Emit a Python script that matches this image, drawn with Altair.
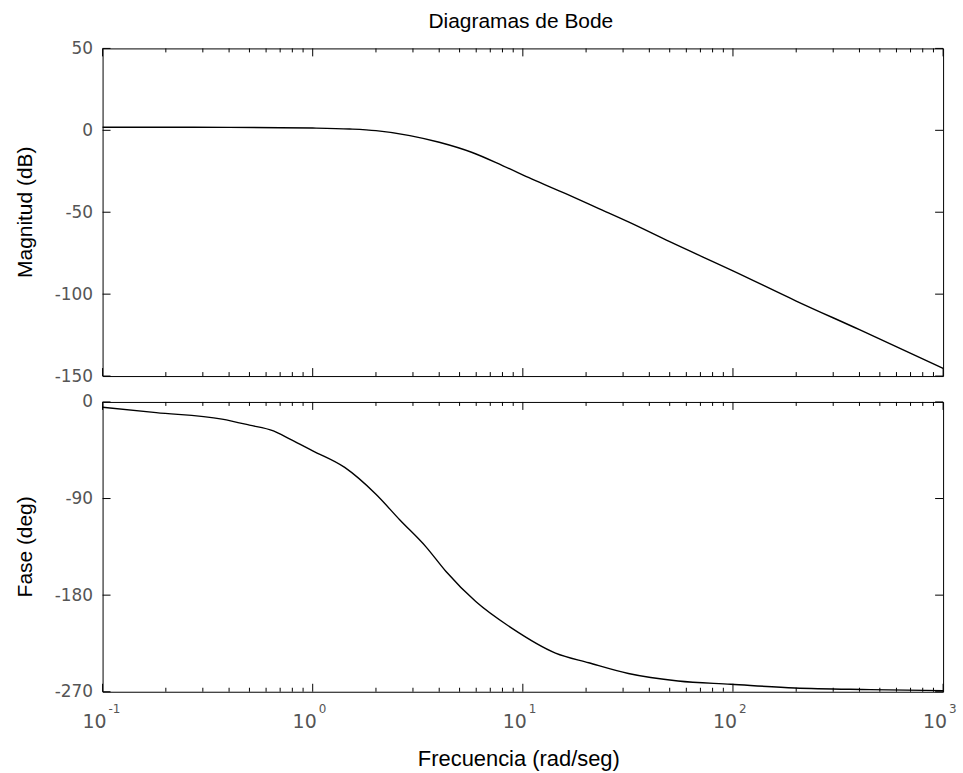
import altair as alt
import pandas as pd

# ---------------- data ----------------
mag_w = [0.1, 0.2, 0.4, 0.7, 1.0, 1.5, 2.0, 2.9, 4.0, 5.7, 8.0, 11, 16, 23, 32, 50, 100, 200, 400, 1000]
mag_db = [1.9, 1.9, 1.8, 1.6, 1.4, 0.8, -0.2, -3.2, -7.3, -13.4, -21.5, -29.6, -38.7, -47.8, -56.1, -68.0,
          -85.8, -104.2, -121.7, -145.3]

ph_w = [0.1, 0.18, 0.37, 0.5, 0.65, 0.78, 1.0, 1.42, 2.0, 2.6, 3.46, 4.31, 5.97, 8.89, 14.3, 20.6, 31.8,
        54.8, 97.7, 197, 451, 1000]
ph_deg = [-5, -9.9, -16, -21.6, -27, -34.6, -45.5, -61, -86, -110, -135, -158, -186, -211, -234, -243, -253,
          -260, -263, -266.5, -268, -269]

mag_ticks = [50, 0, -50, -100, -150]
ph_ticks = [0, -90, -180, -270]
dec_ticks = [0.1, 1, 10, 100, 1000]
dec_base = ["10", "10", "10", "10", "10"]
dec_exp = ["-1", "0", "1", "2", "3"]
minor_ticks = [m * 10.0 ** e for e in range(-1, 3) for m in range(2, 10)]

title_text = ["Diagramas de Bode"]
mag_title = ["Magnitud (dB)"]
ph_title = ["Fase (deg)"]
x_title = ["Frecuencia (rad/seg)"]

# ---------------- layout ----------------
W = 844
H1 = 329
H2 = 291
FONT = "Liberation Sans"
TFONT = "DejaVu Sans"
LABEL_COLOR = "#555555"

xscale = alt.Scale(type="log", domain=[0.1, 1000], nice=False)
X = alt.X("w:Q", scale=xscale, axis=None)

major_df = pd.DataFrame({"w": dec_ticks, "base": dec_base, "exp": dec_exp})
minor_df = pd.DataFrame({"w": minor_ticks})


def xtick_layers(H):
    out = []
    for df, ln in ((major_df, 8), (minor_df, 4)):
        out.append(alt.Chart(df).mark_rule(color="black", strokeWidth=1).encode(
            x=X, y=alt.value(0), y2=alt.value(ln)))
        out.append(alt.Chart(df).mark_rule(color="black", strokeWidth=1).encode(
            x=X, y=alt.value(H), y2=alt.value(H - ln)))
    return out


def panel(wv, yv, ydom, yticks, H, ytitle):
    yscale = alt.Scale(domain=ydom, nice=False, zero=False)
    yaxis = alt.Axis(values=yticks, ticks=False, domain=False, grid=False, labelPadding=10,
                     labelFontSize=17, labelFont=TFONT, labelColor=LABEL_COLOR, title=None,
                     labelFontWeight="normal", labelExpr="'' + datum.value")
    Y = alt.Y("y:Q", scale=yscale, axis=yaxis)
    line = alt.Chart(pd.DataFrame({"w": wv, "y": yv})).mark_line(
        color="black", strokeWidth=1.4, interpolate="monotone").encode(x=X, y=Y)
    ytdf = pd.DataFrame({"y": yticks})
    yt_left = alt.Chart(ytdf).mark_rule(color="black", strokeWidth=1).encode(
        y=Y, x=alt.value(0), x2=alt.value(8))
    yt_right = alt.Chart(ytdf).mark_rule(color="black", strokeWidth=1).encode(
        y=Y, x=alt.value(W - 8), x2=alt.value(W))
    ttl = alt.Chart(pd.DataFrame({"t": ytitle})).mark_text(
        angle=270, align="center", baseline="middle", fontSize=21, font=FONT, color="black").encode(
        x=alt.value(-77), y=alt.value(H / 2), text="t:N")
    return [line, yt_left, yt_right, ttl] + xtick_layers(H)


top_layers = panel(mag_w, mag_db, [-150, 50], mag_ticks, H1, mag_title)
top_layers.append(alt.Chart(pd.DataFrame({"t": title_text})).mark_text(
    align="center", baseline="alphabetic", fontSize=21, font=FONT, color="black").encode(
    x=alt.value(W / 2 - 2), y=alt.value(-20), text="t:N"))
top = alt.layer(*top_layers).properties(width=W, height=H1)

bot_layers = panel(ph_w, ph_deg, [-270, 0], ph_ticks, H2, ph_title)
bot_layers.append(alt.Chart(major_df).mark_text(
    align="right", baseline="middle", fontSize=19, font=TFONT, color=LABEL_COLOR, dx=4).encode(
    x=X, y=alt.value(H2 + 30), text="base:N"))
bot_layers.append(alt.Chart(major_df).mark_text(
    align="left", baseline="middle", fontSize=12, font=TFONT, color=LABEL_COLOR, dx=6).encode(
    x=X, y=alt.value(H2 + 17), text="exp:N"))
bot_layers.append(alt.Chart(pd.DataFrame({"t": x_title})).mark_text(
    align="center", baseline="alphabetic", fontSize=22, font=FONT, color="black").encode(
    x=alt.value(W / 2 - 4), y=alt.value(H2 + 75), text="t:N"))
bottom = alt.layer(*bot_layers).properties(width=W, height=H2)

chart = alt.vconcat(top, bottom, spacing=26, bounds="flush").properties(
    padding={"left": 14, "top": 9, "right": 5, "bottom": 5},
    background="white",
).configure_view(stroke="black", strokeWidth=1)

chart.save("out.html", embed_options={"renderer": "svg", "actions": False})
